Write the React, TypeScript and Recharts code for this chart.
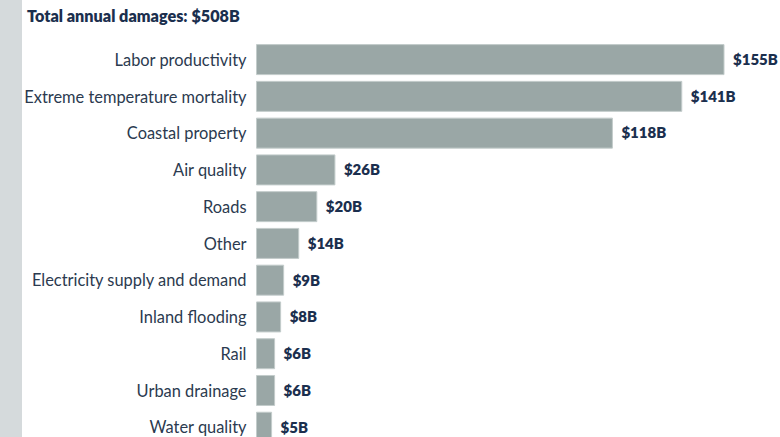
import React from "react";
import { BarChart, Bar, XAxis, YAxis, LabelList } from "recharts";

const categories = [
  "Labor productivity",
  "Extreme temperature mortality",
  "Coastal property",
  "Air quality",
  "Roads",
  "Other",
  "Electricity supply and demand",
  "Inland flooding",
  "Rail",
  "Urban drainage",
  "Water quality",
];
const damages = [155, 141, 118, 26, 20, 14, 9, 8, 6, 6, 5];
const valueLabels = ["$155B", "$141B", "$118B", "$26B", "$20B", "$14B", "$9B", "$8B", "$6B", "$6B", "$5B"];
const titleText = "Total annual damages: $508B";

const data = categories.map((c, i) => ({ name: c, value: damages[i], label: valueLabels[i] }));

const FONT = "Lato, 'Noto Sans', sans-serif";

export default function App() {
  return (
    <div style={{ position: "absolute", left: 0, top: 0, width: 780, height: 437, overflow: "hidden", background: "#ffffff" }}>
      <div style={{ position: "absolute", left: 0, top: 0, width: 22, height: 437, background: "#d5dadc" }} />
      <div
        style={{
          position: "absolute",
          left: 27,
          top: 5,
          fontFamily: FONT,
          fontWeight: 800,
          fontSize: 16.2,
          color: "#1b2f4e",
          lineHeight: "22px",
        }}
      >
        {titleText}
      </div>
      <div style={{ position: "absolute", left: 0, top: 0 }}>
        <BarChart
          layout="vertical"
          width={780}
          height={446}
          data={data}
          margin={{ top: 41.6, right: 56, bottom: 0, left: 0 }}
          barCategoryGap={6.7}
        >
          <XAxis type="number" domain={[0, 155]} hide />
          <YAxis
            type="category"
            dataKey="name"
            width={256.5}
            axisLine={false}
            tickLine={false}
            tickSize={0}
            tickMargin={10}
            interval={0}
            tick={{ fill: "#2b3a4f", fontSize: 16.4, fontFamily: FONT }}
          />
          <Bar dataKey="value" fill="#9aa7a6" stroke="#c3cccb" strokeWidth={1} barSize={30} isAnimationActive={false}>
            <LabelList
              dataKey="label"
              position="right"
              offset={9}
              style={{ fill: "#1b2f4e", fontSize: 15, fontWeight: 800, fontFamily: FONT }}
            />
          </Bar>
        </BarChart>
      </div>
    </div>
  );
}
